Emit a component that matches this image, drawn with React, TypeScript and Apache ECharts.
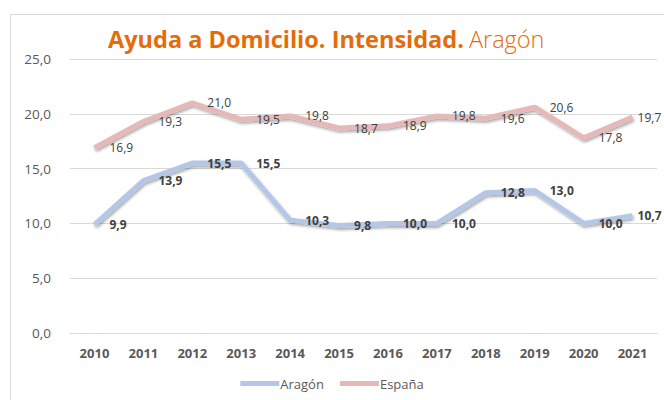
import React, { useEffect, useRef } from "react";
import * as echarts from "echarts";

const years = ["2010", "2011", "2012", "2013", "2014", "2015", "2016", "2017", "2018", "2019", "2020", "2021"];
const aragon = [9.9, 13.9, 15.5, 15.5, 10.3, 9.8, 10.0, 10.0, 12.8, 13.0, 10.0, 10.7];
const espana = [16.9, 19.3, 21.0, 19.5, 19.8, 18.7, 18.9, 19.8, 19.6, 20.6, 17.8, 19.7];

const FONT = "'Open Sans', 'Liberation Sans', sans-serif";
const fmt = (v: number) => v.toFixed(1).replace(".", ",");

export default function App() {
  const ref = useRef<HTMLDivElement>(null);
  useEffect(() => {
    document.body.style.margin = "0";
    const chart = echarts.init(ref.current!, null, { renderer: "svg" });
    const lineSeries = (name: string, data: number[], color: string, bold: boolean) => ({
      name,
      type: "line",
      data: data.map((v, i) =>
        i === data.length - 1 ? { value: v, label: { distance: 5 } } : v
      ),
      symbol: "circle",
      symbolSize: 0.1,
      showSymbol: true,
      lineStyle: {
        width: 5,
        color,
        shadowColor: "rgba(0,0,0,0.35)",
        shadowBlur: 3,
        shadowOffsetX: 1,
        shadowOffsetY: 2,
      },
      itemStyle: { color },
      labelLayout: { hideOverlap: false },
      label: {
        show: true,
        position: "right",
        distance: 15,
        formatter: (p: any) => fmt(p.value),
        fontFamily: FONT,
        fontSize: 12,
        fontWeight: bold ? "bold" : "normal",
        color: "#404040",
      },
    });
    chart.setOption({
      animation: false,
      graphic: [
        {
          type: "polyline",
          shape: { points: [[10.5, 400], [10.5, 14.5], [664, 14.5]] },
          style: { stroke: "#D9D9D9", fill: "none", lineWidth: 1 },
          silent: true,
        },
      ],
      title: {
        text: "{b|Ayuda a Domicilio. Intensidad.} {l|Aragón}",
        left: 103,
        top: 22,
        textStyle: {
          rich: {
            b: { fontFamily: FONT, fontSize: 23.5, fontWeight: "bold", color: "#E46C0A" },
            l: { fontFamily: FONT, fontSize: 23.5, fontWeight: 300, color: "#E46C0A" },
          },
        },
      },
      legend: {
        bottom: 5,
        left: "center",
        itemWidth: 39,
        itemHeight: 5,
        itemGap: 16,
        icon: "rect",
        data: ["Aragón", "España"],
        textStyle: { fontFamily: FONT, fontSize: 13, color: "#595959", padding: [0, 0, 0, -4] },
      },
      grid: { left: 70, right: 7, top: 59, bottom: 67 },
      xAxis: {
        type: "category",
        data: years,
        axisLine: { show: true, lineStyle: { color: "#D9D9D9" } },
        axisTick: { show: false },
        axisLabel: { fontFamily: FONT, fontSize: 13, fontWeight: "bold", color: "#595959", margin: 13 },
      },
      yAxis: {
        type: "value",
        min: 0,
        max: 25,
        interval: 5,
        axisLabel: {
          formatter: (v: number) => fmt(v),
          fontFamily: FONT,
          fontSize: 13.5,
          color: "#595959",
          margin: 19,
        },
        splitLine: { lineStyle: { color: "#D9D9D9" } },
      },
      series: [
        lineSeries("Aragón", aragon, "#B4C7E7", true),
        lineSeries("España", espana, "#E6B9B8", false),
      ],
    });
    return () => chart.dispose();
  }, []);
  return <div ref={ref} style={{ width: 664, height: 400 }} />;
}
